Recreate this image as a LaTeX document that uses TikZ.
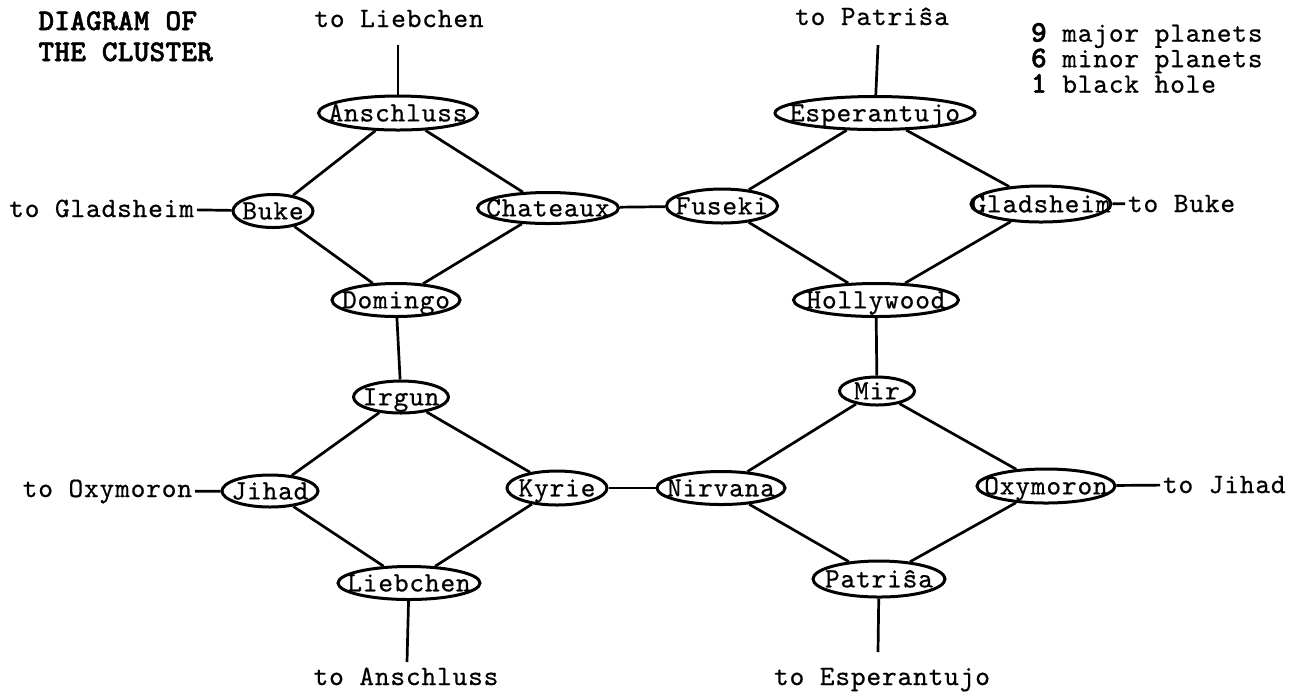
\documentclass[tikz,border=0pt]{standalone}
\usepackage{fontspec}
\usetikzlibrary{shapes.geometric}
\newfontfamily\tw{lmmono10-regular.otf}[LetterSpace=3, FakeBold=0.6]
\newfontfamily\twb{lmmonolt10-bold.otf}[LetterSpace=0.5, FakeBold=1.6]
\newcommand\tf{\tw\fontsize{14}{16}\selectfont}
\newcommand\tfb{\twb\fontsize{15}{17}\selectfont}
\newcommand\pl[1]{\smash{\makebox[0pt]{\raisebox{-.3em}{#1}}}}
\begin{document}
\begin{tikzpicture}[x=0.5pt,y=-0.5pt,
  planet/.style 2 args={draw, ellipse, line width=1.5pt, inner sep=0pt,
    minimum width=#1*0.5pt, minimum height=#2*0.5pt, font=\tf},
  link/.style={line width=1.35pt},
  lab/.style={inner sep=0pt, outer sep=1.5pt, font=\tf},
  ttl/.style={inner sep=0pt, font=\tfb, anchor=base west},
]
\useasboundingbox (0,0) rectangle (1301,693);

% title and legend
\node[ttl] (t1) at (38,30) {DIAGRAM OF};
\node[ttl] (t2) at (38,61) {THE CLUSTER};
\node[lab, anchor=north west, align=left,
      font={\tw\fontsize{14}{12.75}\selectfont\lineskiplimit=-30pt}]
  (legend) at (1028,20)
  {{\tfb 9} major planets\\{\tfb 6} minor planets\\{\tfb 1} black hole};

% planets
\node[planet={159}{34}] (anschluss) at (398,113) {\pl{Anschluss}};
\node[planet={80}{33}]  (buke)      at (273,211) {\pl{Buke}};
\node[planet={141}{31}] (chateaux)  at (548,208) {\pl{Chateaux}};
\node[planet={128}{33}] (domingo)   at (396,300) {\pl{Domingo}};
\node[planet={200}{33}] (esper)     at (875,113) {\pl{Esperantujo}};
\node[planet={111}{34}] (fuseki)    at (722,206) {\pl{Fuseki}};
\node[planet={140}{36}] (glad)      at (1041,204) {\pl{Gladsheim}};
\node[planet={165}{33}] (holly)     at (876,300) {\pl{Hollywood}};
\node[planet={95}{32}]  (irgun)     at (401,397) {\pl{Irgun}};
\node[planet={75}{28}]  (mir)       at (877,391) {\pl{Mir}};
\node[planet={96}{32}]  (jihad)     at (270,491) {\pl{Jihad}};
\node[planet={100}{34}] (kyrie)     at (557,488) {\pl{Kyrie}};
\node[planet={128}{33}] (nirvana)   at (721,488) {\pl{Nirvana}};
\node[planet={138}{34}] (oxy)       at (1046,486) {\pl{Oxymoron}};
\node[planet={142}{33}] (lieb)      at (409,583) {\pl{Liebchen}};
\node[planet={132}{36}] (patrisa)   at (879,579) {\pl{Patriŝa}};

% outward labels
\node[lab, anchor=base] (tLieb) at (399,27) {to Liebchen};
\node[lab, anchor=base] (tPatr) at (872,25) {to Patriŝa};
\node[lab, anchor=base east] (tGlad) at (197,217) {to Gladsheim};
\node[lab, anchor=base west] (tBuke) at (1125,212) {to Buke};
\node[lab, anchor=base east] (tOxy) at (195,497) {to Oxymoron};
\node[lab, anchor=base west] (tJihad) at (1160,493) {to Jihad};
\node[lab, anchor=base] (tAnsch) at (406,685) {to Anschluss};
\node[lab, anchor=base] (tEsper) at (882,685) {to Esperantujo};

\coordinate (eLieb) at (398,45);
\coordinate (ePatr) at (878,45);
\coordinate (eAnsch) at (407,662);
\coordinate (eEsper) at (878,652);

% connectors
\draw[link] (anschluss) -- (eLieb);
\draw[link] (esper) -- (ePatr);
\draw[link] (lieb) -- (eAnsch);
\draw[link] (patrisa) -- (eEsper);
\draw[link] (buke) -- (tGlad);
\draw[link] (glad) -- (tBuke);
\draw[link] (jihad) -- (tOxy);
\draw[link] (oxy) -- (tJihad);

\draw[link] (anschluss) -- (buke);
\draw[link] (anschluss) -- (chateaux);
\draw[link] (buke) -- (domingo);
\draw[link] (chateaux) -- (domingo);
\draw[link] (chateaux) -- (fuseki);
\draw[link] (esper) -- (fuseki);
\draw[link] (esper) -- (glad);
\draw[link] (fuseki) -- (holly);
\draw[link] (glad) -- (holly);
\draw[link] (domingo) -- (irgun);
\draw[link] (holly) -- (mir);
\draw[link] (irgun) -- (jihad);
\draw[link] (irgun) -- (kyrie);
\draw[link] (kyrie) -- (nirvana);
\draw[link] (jihad) -- (lieb);
\draw[link] (kyrie) -- (lieb);
\draw[link] (mir) -- (nirvana);
\draw[link] (mir) -- (oxy);
\draw[link] (nirvana) -- (patrisa);
\draw[link] (oxy) -- (patrisa);
\end{tikzpicture}
\end{document}
